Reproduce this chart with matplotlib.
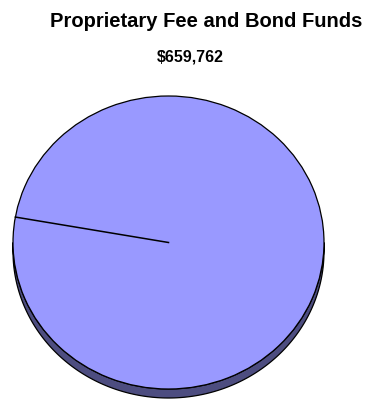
import numpy as np
import matplotlib
matplotlib.use("Agg")
import matplotlib.pyplot as plt
from matplotlib.patches import Polygon

# Data
categories = ["Proprietary Fee and Bond Funds"]
values = [659762]
title = "Proprietary Fee and Bond Funds"
total_label = "$659,762"
start_angle = 170

W, H = 370, 400
fig = plt.figure(figsize=(W / 100, H / 100), dpi=100)

# pixel geometry of pie top face
left_px, right_px, top_px, bot_px = 13, 324, 96, 389
depth_px = 9
ax = fig.add_axes([left_px / W, (H - bot_px) / H, (right_px - left_px) / W, (bot_px - top_px) / H])

top_color = "#9999FF"
side_color = "#4D4D80"

d = 2.0 * depth_px / (bot_px - top_px)
t1 = np.linspace(np.pi, 2 * np.pi, 200)
t2 = t1[::-1]
pts = np.concatenate([np.column_stack([np.cos(t1), np.sin(t1) - d]),
                      np.column_stack([np.cos(t2), np.sin(t2)])])
side = Polygon(pts, closed=True, facecolor=side_color, edgecolor="black",
               linewidth=0.9, clip_on=False, zorder=1)
ax.add_patch(side)

wedges, _ = ax.pie(values, colors=[top_color], startangle=start_angle,
                   counterclock=False,
                   wedgeprops=dict(edgecolor="black", linewidth=0.9, zorder=2))
for w in wedges:
    w.set_clip_on(False)

# radial divider line at the slice start
a = np.deg2rad(start_angle)
ax.plot([0, np.cos(a)], [0, np.sin(a)], color="black", linewidth=1.1, zorder=3,
        clip_on=False)

ax.set_aspect("auto")
ax.set_xlim(-1, 1)
ax.set_ylim(-1, 1)
ax.axis("off")

fig.text(206 / W, 1 - 27 / H, title, ha="center", va="baseline",
         fontsize=14.5, fontweight="bold", family=["Liberation Sans", "DejaVu Sans"])
fig.text(190 / W, 1 - 61 / H, total_label, ha="center", va="baseline",
         fontsize=11.5, fontweight="bold",
         family=["Liberation Sans Narrow", "Liberation Sans", "DejaVu Sans"])

fig.savefig("out.png", dpi=100, facecolor="white")
